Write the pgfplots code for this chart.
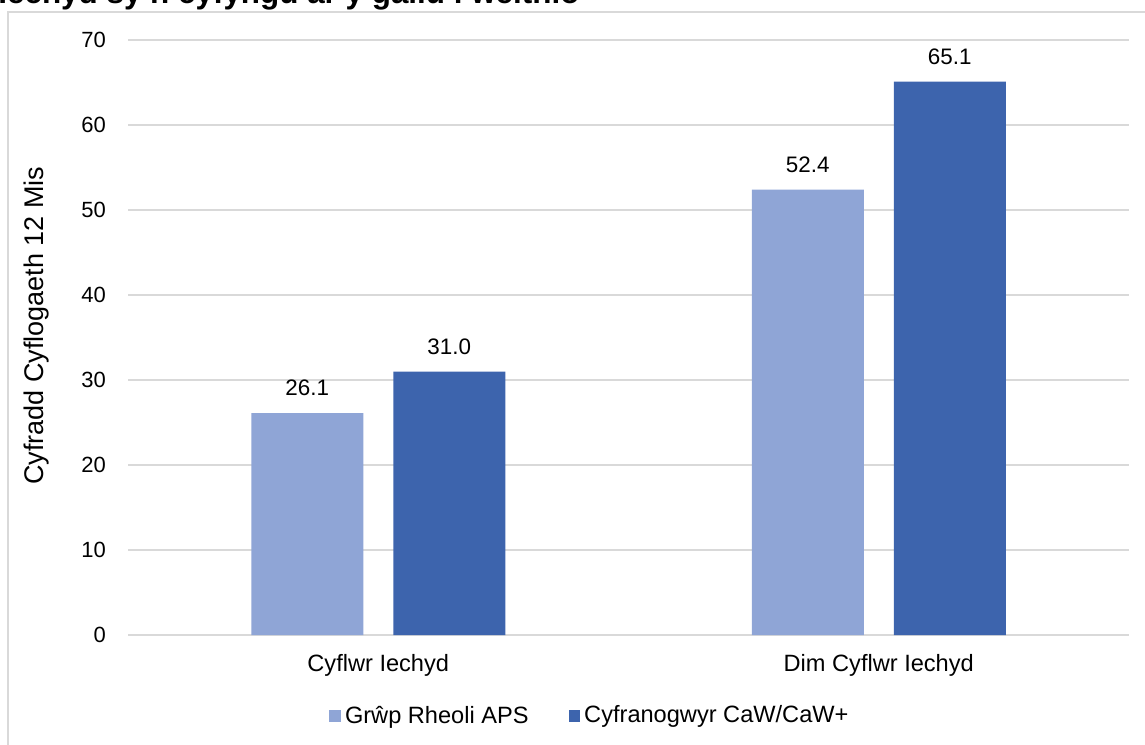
\documentclass[border=0pt]{standalone}
\usepackage{fontspec}
\setmainfont{Liberation Sans}
\usepackage{pgfplots}
\pgfplotsset{compat=1.18}

\definecolor{lightbar}{RGB}{143,165,214}
\definecolor{darkbar}{RGB}{61,100,173}
\definecolor{gridgray}{RGB}{217,217,217}

\begin{document}
\begin{tikzpicture}[x=1pt,y=1pt]
  \begin{axis}[
    at={(64pt,54.5pt)}, anchor=south west,
    scale only axis,
    width=500.5pt, height=297.5pt,
    ybar=15pt, bar width=56pt,
    xmin=-0.5, xmax=1.5,
    ymin=0, ymax=70,
    xtick={0,1},
    xticklabels={Cyflwr Iechyd, Dim Cyflwr Iechyd},
    ytick={0,10,...,70},
    major tick length=0pt,
    ymajorgrids,
    grid style={gridgray, line width=0.75pt},
    axis x line*=bottom,
    axis y line*=left,
    x axis line style={gridgray, line width=0.75pt},
    y axis line style={draw=none},
    /pgf/number format/assume math mode=true,
    ticklabel style={font=\fontsize{11}{13}\selectfont},
    yticklabel style={xshift=-7.5pt},
    xticklabel style={yshift=-6pt, font=\fontsize{11.8}{13}\selectfont},
    ylabel={Cyfradd Cyflogaeth 12 Mis},
    ylabel style={at={(axis description cs:-0.091,0.52)}, anchor=center,
      font=\fontsize{13.5}{15}\selectfont},
    nodes near coords={\pgfmathprintnumber[fixed,fixed zerofill,precision=1]{\pgfplotspointmeta}},
    nodes near coords style={font=\fontsize{11.2}{13}\selectfont, yshift=5pt},
    legend style={at={(0.4625,-0.136)}, anchor=center, draw=none,
      legend columns=-1, font=\fontsize{11.8}{13}\selectfont,
      /tikz/every even column/.append style={column sep=18pt}},
    legend image code/.code={\fill[#1] (0pt,-3pt) rectangle (5.8pt,3pt);},
  ]
    \addplot[fill=lightbar, draw=none] coordinates {(0,26.1) (1,52.4)};
    \addplot[fill=darkbar, draw=none] coordinates {(0,31.0) (1,65.1)};
    \legend{Grŵp Rheoli APS, Cyfranogwyr CaW/CaW+}
  \end{axis}
  \node[anchor=base west, inner sep=0, font=\bfseries\fontsize{15.7}{18}\selectfont]
    at (-1pt,370pt) {Iechyd sy'n cyfyngu ar y gallu i weithio};
  \draw[gridgray, line width=0.75pt] (4pt,-10pt) -- (4pt,366pt) -- (600pt,366pt);
  \pgfresetboundingbox
  \useasboundingbox (0,0) rectangle (572.5pt,372pt);
\end{tikzpicture}
\end{document}
